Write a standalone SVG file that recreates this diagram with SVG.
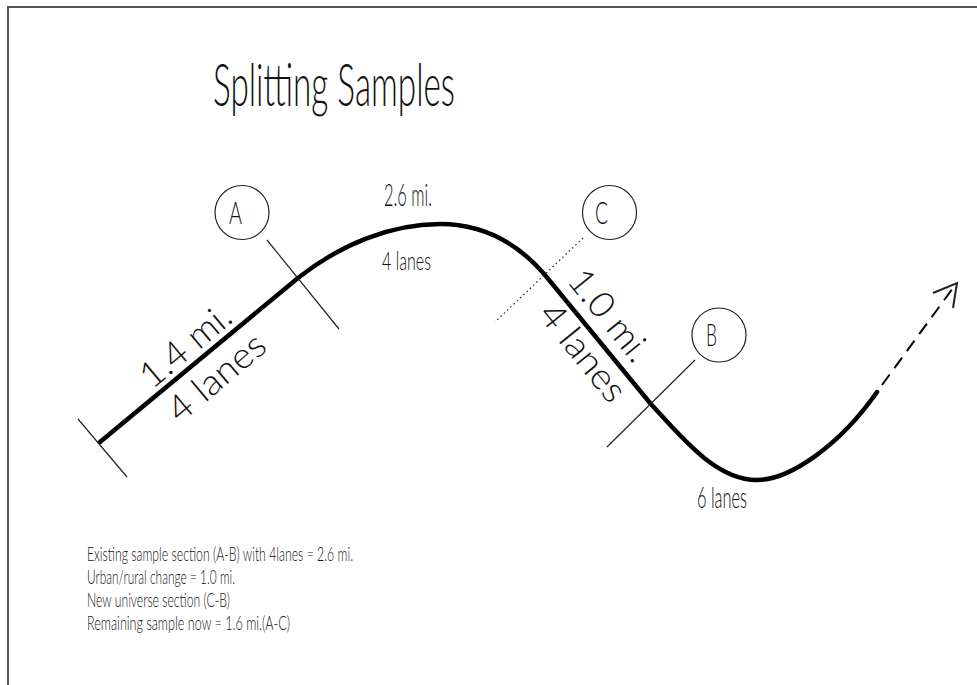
<svg xmlns="http://www.w3.org/2000/svg" width="977" height="685" viewBox="0 0 977 685">
<style>
.frame{stroke:#555;stroke-width:2;fill:none}
.road{stroke:#000;stroke-width:4.5;fill:none;stroke-linecap:round;stroke-linejoin:round}
.tick{stroke:#222;stroke-width:1.2;fill:none}
.dot{stroke:#222;stroke-width:1.2;fill:none;stroke-dasharray:1.5 3}
.dash{stroke:#000;stroke-width:2;fill:none;stroke-dasharray:13 8}
.circ{stroke:#222;stroke-width:1.2;fill:#fff}
.cond{font-family:Lato,"Liberation Sans",sans-serif;font-weight:300;fill:#111}
.rot{font-family:Lato,"DejaVu Sans",sans-serif;font-size:36px;font-weight:300;fill:#111}
</style>
<rect width="977" height="685" fill="#fff"/>
<path class="frame" d="M8,685 V7 H977"/>
<g id="title"><text class="cond" x="213" y="106" font-size="60" textLength="242" lengthAdjust="spacingAndGlyphs">Splitting Samples</text></g>
<g id="connectors">
<path class="road" d="M100,442 L298,278 C340,245 390,224 440,224 C480,224 515,240 545,275 L650,403 C682,438 716,480 757,480 C790,480 840,445 877,392"/>
<path class="dash" d="M882,385 L953,288"/>
<polyline class="tick" points="933,293 957,283 953,308" style="stroke-width:2"/>
<line class="tick" x1="78" y1="419" x2="127" y2="477"/>
<line class="tick" x1="267" y1="240" x2="339" y2="329"/>
<line class="dot" x1="583" y1="238" x2="495" y2="322"/>
<line class="tick" x1="695" y1="360" x2="607" y2="447"/>
</g>
<g id="nodeA"><circle class="circ" cx="242" cy="212.5" r="27"/><text class="cond" x="229" y="224" font-size="32" textLength="13" lengthAdjust="spacingAndGlyphs">A</text></g>
<g id="nodeC"><circle class="circ" cx="609.5" cy="212.5" r="27"/><text class="cond" x="595" y="224" font-size="32" textLength="13" lengthAdjust="spacingAndGlyphs">C</text></g>
<g id="nodeB"><circle class="circ" cx="719" cy="335" r="27"/><text class="cond" x="706" y="346" font-size="32" textLength="11" lengthAdjust="spacingAndGlyphs">B</text></g>
<g id="labels">
<text class="rot" transform="translate(152,390) rotate(-40)" textLength="108" lengthAdjust="spacingAndGlyphs">1.4 mi.</text>
<text class="rot" transform="translate(180,424) rotate(-40)" textLength="116" lengthAdjust="spacingAndGlyphs">4 lanes</text>
<text class="rot" transform="translate(566,281) rotate(51)" textLength="108" lengthAdjust="spacingAndGlyphs">1.0 mi.</text>
<text class="rot" transform="translate(537,315) rotate(51)" textLength="116" lengthAdjust="spacingAndGlyphs">4 lanes</text>
<text class="cond" x="384" y="206" font-size="31" textLength="48" lengthAdjust="spacingAndGlyphs">2.6 mi.</text>
<text class="cond" x="382" y="270" font-size="25" textLength="49" lengthAdjust="spacingAndGlyphs">4 lanes</text>
<text class="cond" x="697" y="508" font-size="30" textLength="50" lengthAdjust="spacingAndGlyphs">6 lanes</text>
</g>
<g id="notes">
<text class="cond" x="87" y="561" font-size="20" textLength="266" lengthAdjust="spacingAndGlyphs">Existing sample section (A-B) with  4lanes = 2.6 mi.</text>
<text class="cond" x="87" y="584" font-size="20" textLength="148" lengthAdjust="spacingAndGlyphs">Urban/rural change = 1.0 mi.</text>
<text class="cond" x="87" y="607" font-size="20" textLength="143" lengthAdjust="spacingAndGlyphs">New universe section (C-B)</text>
<text class="cond" x="87" y="630" font-size="20" textLength="203" lengthAdjust="spacingAndGlyphs">Remaining sample now = 1.6 mi.(A-C)</text>
</g>
</svg>
